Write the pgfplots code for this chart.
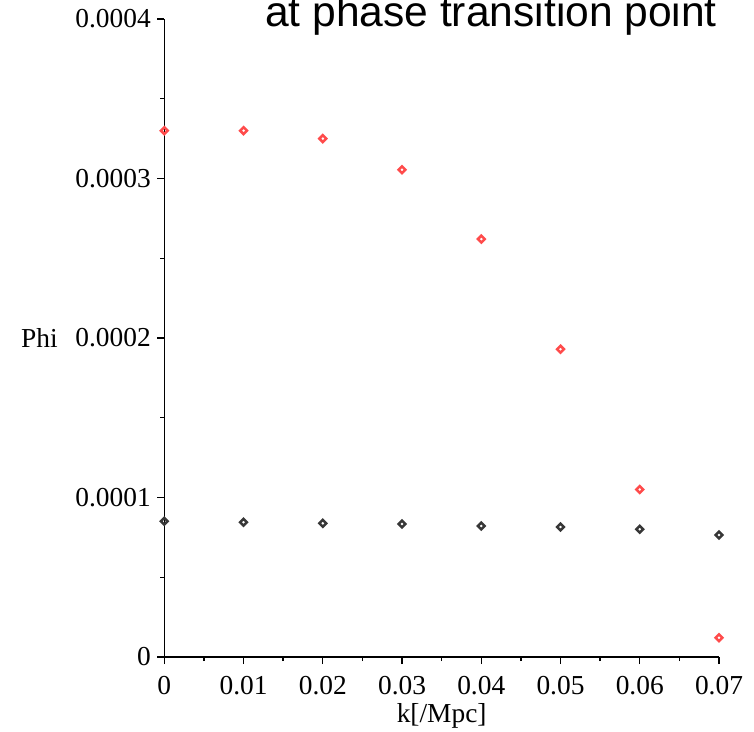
\documentclass[border=0pt]{standalone}
\usepackage{pgfplots}
\pgfplotsset{compat=1.18}
\usepackage{fontspec}
\setmainfont{Liberation Serif}
\newfontfamily\arialfont{Liberation Sans}
\definecolor{redpt}{RGB}{255,75,75}
\definecolor{blkpt}{RGB}{55,55,55}
\begin{document}
\begin{tikzpicture}
\useasboundingbox (-164.3bp,-75bp) rectangle (589.7bp,657bp);
\clip (-164.3bp,-75bp) rectangle (589.7bp,657bp);
\begin{axis}[
  scale only axis,
  width=554.7bp, height=638bp,
  xmin=0, xmax=0.07, ymin=0, ymax=0.0004,
  axis x line*=bottom, axis y line*=left,
  axis line style={line width=1.4bp, -},
  xtick={0,0.01,0.02,0.03,0.04,0.05,0.06,0.07},
  xticklabels={0,0.01,0.02,0.03,0.04,0.05,0.06,0.07},
  ytick={0,0.0001,0.0002,0.0003,0.0004},
  yticklabels={0,0.0001,0.0002,0.0003,0.0004},
  scaled x ticks=false, scaled y ticks=false,
  minor x tick num=1, minor y tick num=1,
  tick align=outside,
  major tick length=7bp, minor tick length=4bp,
  tick style={line width=1.4bp, black},
  tick label style={font=\fontsize{27.5}{30}\selectfont},
  xticklabel style={yshift=-9bp},
  yticklabel style={xshift=-3bp},
  /pgf/number format/assume math mode=true,
  xlabel={k[/Mpc]},
  xlabel style={font=\fontsize{27.5}{30}\selectfont, at={(axis description cs:0.5,0)}, anchor=base, yshift=-65bp},
  ylabel={Phi},
  ylabel style={font=\fontsize{27.5}{30}\selectfont, inner sep=0pt, rotate=-90, at={(axis description cs:0,0)}, anchor=base east, xshift=-106.3bp, yshift=309bp},
  clip=false,
]
\addplot[only marks, mark=square, mark size=2.4bp, mark options={rotate=45, line width=2.5bp, draw=redpt}] coordinates {
  (0,0.000330) (0.01,0.000330) (0.02,0.000325) (0.03,0.0003055)
  (0.04,0.000262) (0.05,0.000193) (0.06,0.000105) (0.07,0.0000121)
};
\addplot[only marks, mark=square, mark size=2.4bp, mark options={rotate=45, line width=2.5bp, draw=blkpt}] coordinates {
  (0,0.0000851) (0.01,0.0000845) (0.02,0.0000838) (0.03,0.0000834)
  (0.04,0.0000821) (0.05,0.0000815) (0.06,0.0000801) (0.07,0.0000765)
};
\end{axis}
\node[anchor=base west, inner sep=0pt, font=\arialfont\fontsize{42.7}{46}\selectfont] at (100.7bp,630bp) {at phase transition point};
\end{tikzpicture}
\end{document}
